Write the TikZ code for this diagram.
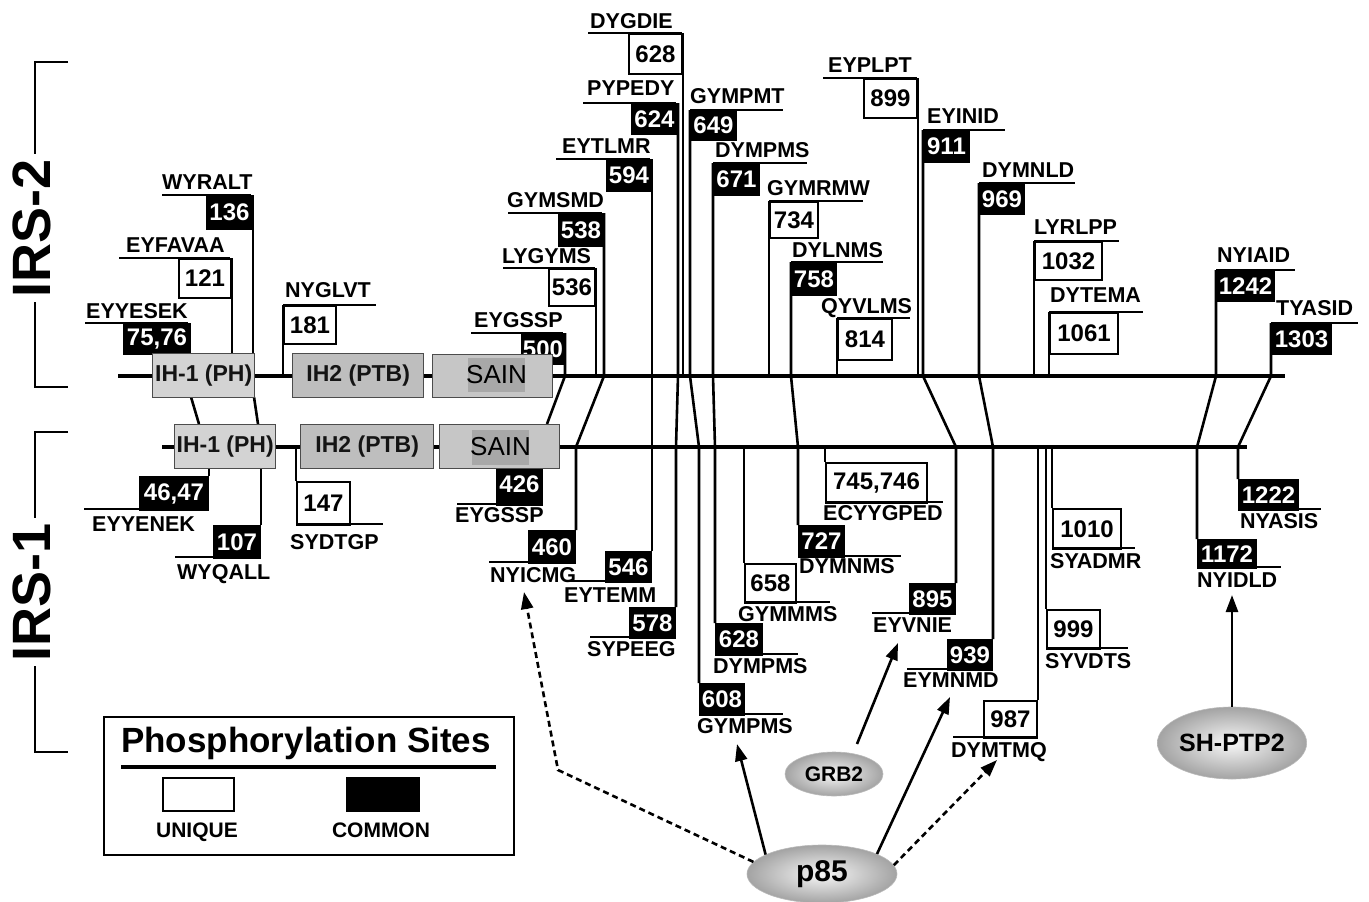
\documentclass[tikz,border=0pt]{standalone}
\usepackage{fontspec}
\setmainfont{Liberation Sans}
\usetikzlibrary{arrows.meta,shapes.geometric,calc}
\newcommand\labfont{\bfseries\fontsize{21.5}{21.5}\selectfont}
\newcommand\numfont{\bfseries\fontsize{24}{24}\selectfont}
\newcommand\domfont{\bfseries\fontsize{23}{23}\selectfont}
\newcommand\sainfont{\fontsize{26}{26}\selectfont}
\newcommand\irsfont{\bfseries\fontsize{54}{54}\selectfont}
\definecolor{ihone}{HTML}{D3D3D3}
\definecolor{ihtwo}{HTML}{BEBEBE}
\definecolor{sainc}{HTML}{C6C6C6}
\definecolor{saind}{HTML}{A8A8A8}
\begin{document}
\begin{tikzpicture}[x=1pt,y=-1pt,
  every node/.style={inner sep=0pt},
  num/.style={draw=black, line width=2pt, anchor=north west, font=\numfont},
  uni/.style={num, fill=white, text=black},
  com/.style={num, fill=black, text=white},
  lab/.style={anchor=base west, font=\labfont},
  ul/.style={line width=2.4pt},
  conn/.style={line width=2.6pt},
  mainline/.style={line width=4.6pt},
  dom/.style={draw=black!70, line width=1.4pt, anchor=north west, font=\domfont, text=black!92},
  prot/.style={ellipse, draw=gray!55, line width=0.6pt, inner color=gray!6, outer color=gray!72},
  arr/.style={line width=2.6pt, -{Triangle[length=17pt,width=12pt]}},
  darr/.style={arr, dash pattern=on 6pt off 4pt},
]
\useasboundingbox (0,0) rectangle (1369,902);
\fill[white] (0,0) rectangle (1369,902);

% brackets and protein names
\draw[line width=2.4pt] (68,62) -- (35,62) -- (35,387) -- (68,387);
\draw[line width=2.4pt] (68,432) -- (35,432) -- (35,752) -- (68,752);
\node[rotate=90, fill=white, inner sep=5pt, font=\irsfont] (irs2) at (32,228) {IRS-2};
\node[rotate=90, fill=white, inner sep=5pt, font=\irsfont] (irs1) at (32,592) {IRS-1};

\coordinate (M2) at (0,376);
\coordinate (M1) at (0,447);

% ---------- IRS-2 boxes ----------
\node[com, minimum width=66pt, minimum height=30pt] (b7576) at (123,323) {75,76};
\node[uni, minimum width=52pt, minimum height=39pt] (b121) at (178,258) {121};
\node[com, minimum width=45pt, minimum height=33pt] (b136) at (206,195) {136};
\node[uni, minimum width=52pt, minimum height=38pt] (b181) at (283,305) {181};
\node[com, minimum width=42pt, minimum height=30pt] (b500) at (521,333) {500};
\node[uni, minimum width=46pt, minimum height=37pt] (b536) at (548,268) {536};
\node[com, minimum width=44pt, minimum height=32pt] (b538) at (558,213) {538};
\node[com, minimum width=44pt, minimum height=31pt] (b594) at (606,159) {594};
\node[com, minimum width=45pt, minimum height=30pt] (b624) at (631,103) {624};
\node[uni, minimum width=53pt, minimum height=40pt] (b628) at (628,33) {628};
\node[com, minimum width=45pt, minimum height=29pt] (b649) at (690,110) {649};
\node[com, minimum width=45pt, minimum height=31pt] (b671) at (713,163) {671};
\node[uni, minimum width=48pt, minimum height=36pt] (b734) at (769,201) {734};
\node[com, minimum width=44pt, minimum height=32pt] (b758) at (791,262) {758};
\node[uni, minimum width=54pt, minimum height=41pt] (b814) at (837,318) {814};
\node[uni, minimum width=53pt, minimum height=39pt] (b899) at (863,78) {899};
\node[com, minimum width=45pt, minimum height=31pt] (b911) at (923,130) {911};
\node[com, minimum width=44pt, minimum height=30pt] (b969) at (979,183) {969};
\node[uni, minimum width=67pt, minimum height=38pt] (b1032) at (1034,241) {1032};
\node[uni, minimum width=68pt, minimum height=41pt] (b1061) at (1049,312) {1061};
\node[com, minimum width=57pt, minimum height=30pt] (b1242) at (1216,270) {1242};
\node[com, minimum width=59pt, minimum height=30pt] (b1303) at (1271,323) {1303};

% ---------- IRS-1 boxes ----------
\node[com, minimum width=68pt, minimum height=33pt] (b4647) at (139,476) {46,47};
\node[com, minimum width=46pt, minimum height=32pt] (b107) at (213,525) {107};
\node[uni, minimum width=53pt, minimum height=43pt] (b147) at (296,481) {147};
\node[com, minimum width=45pt, minimum height=42pt] (b426) at (496,462) {\raisebox{-5pt}{426}};
\node[com, minimum width=46pt, minimum height=32pt] (b460) at (528,530) {460};
\node[com, minimum width=45pt, minimum height=30pt] (b546) at (605,551) {546};
\node[com, minimum width=45pt, minimum height=30pt] (b578) at (629,607) {578};
\node[com, minimum width=44pt, minimum height=31pt] (b608) at (699,683) {608};
\node[com, minimum width=46pt, minimum height=31pt] (b628l) at (715,623) {628};
\node[uni, minimum width=51pt, minimum height=39pt] (b658) at (744,563) {658};
\node[com, minimum width=45pt, minimum height=31pt] (b727) at (798,525) {727};
\node[uni, minimum width=101pt, minimum height=40pt] (b745) at (825,462) {745,746};
\node[com, minimum width=45pt, minimum height=30pt] (b895) at (909,583) {895};
\node[com, minimum width=44pt, minimum height=30pt] (b939) at (947,639) {939};
\node[uni, minimum width=53pt, minimum height=37pt] (b987) at (983,700) {987};
\node[uni, minimum width=53pt, minimum height=39pt] (b999) at (1046,609) {999};
\node[uni, minimum width=68pt, minimum height=40pt] (b1010) at (1052,508) {1010};
\node[com, minimum width=58pt, minimum height=28pt] (b1172) at (1197,539) {1172};
\node[com, minimum width=59pt, minimum height=30pt] (b1222) at (1238,479) {1222};

% ---------- underlines ----------
\foreach \a/\b/\c in {85/188/323, 119/230/258, 162/251/195, 283/376/305, 471/563/333,
  503/595/268, 508/602/213, 556/650/159, 583/676/103, 588/682/33, 690/783/110,
  713/807/163, 769/863/201, 791/883/262, 837/910/318, 823/917/78, 923/1005/130,
  979/1075/183, 1034/1119/241, 1049/1143/312, 1216/1295/270, 1271/1358/323,
  84/207/509, 175/259/557, 296/383/524, 457/541/504, 489/574/562, 567/650/581,
  590/674/637, 699/783/714, 715/798/654, 744/830/602, 798/901/556, 825/943/502,
  872/954/613, 907/991/669, 953/1036/737, 1046/1128/648, 1052/1135/548,
  1197/1281/567, 1238/1321/509}
  \draw[ul] (\a,\c) -- (\b,\c);

% ---------- site connectors ----------
\foreach \n/\s in {b121/north east, b136/north east, b181/north west, b536/north east,
  b628/north east, b734/north west, b814/north west, b899/north east,
  b1032/north west, b1061/north west}
  \draw[conn] (\n.\s) -- (\n.\s |- M2);
\foreach \n/\s in {b4647/north east, b107/north east, b147/north west, b658/north west,
  b745/north west, b987/north east, b999/north west, b1010/north west}
  \draw[conn] (\n.\s |- M1) -- (\n.\s);

\draw[conn] (b500.north east) -- (b500.north east |- M2) -- (547,424);
\draw[conn] (b538.north east) -- (b538.north east |- M2) -- (b460.north east |- M1) -- (b460.north east);
\draw[conn] (b594.north east) -- (b594.north east |- M2) -- (b546.north east |- M1) -- (b546.north east);
\draw[conn] (b624.north east) -- (b624.north east |- M2) -- (b578.north east |- M1) -- (b578.north east);
\draw[conn] (b649.north west) -- (b649.north west |- M2) -- (b608.north west |- M1) -- (b608.north west);
\draw[conn] (b671.north west) -- (b671.north west |- M2) -- (b628l.north west |- M1) -- (b628l.north west);
\draw[conn] (b758.north west) -- (b758.north west |- M2) -- (b727.north west |- M1) -- (b727.north west);
\draw[conn] (b911.north west) -- (b911.north west |- M2) -- (b895.north east |- M1) -- (b895.north east);
\draw[conn] (b969.north west) -- (b969.north west |- M2) -- (b939.north east |- M1) -- (b939.north east);
\draw[conn] (b1242.north west) -- (b1242.north west |- M2) -- (b1172.north west |- M1) -- (b1172.north west);
\draw[conn] (b1303.north west) -- (b1303.north west |- M2) -- (b1222.north west |- M1) -- (b1222.north west);
\draw[conn] (191,397) -- (199,424);
\draw[conn] (254,397) -- (258,424);

% ---------- main chains ----------
\draw[mainline] (118,376) -- (1285,376);
\draw[mainline] (162,447) -- (1247,447);

% ---------- domains ----------
\node[dom, fill=ihone, minimum width=102pt, minimum height=44pt] (ih1a) at (152,353) {IH-1 (PH)};
\node[dom, fill=ihtwo, minimum width=131pt, minimum height=44pt] (ih2a) at (292,353) {IH2 (PTB)};
\node[dom, fill=sainc, minimum width=120pt, minimum height=43pt] (saina) at (432,354) {};
\fill[saind] (468,358) rectangle (525,392);
\node[font=\sainfont] (sainta) at (496.5,375) {SAIN};

\node[dom, fill=ihone, minimum width=101pt, minimum height=44pt] (ih1b) at (174,424) {IH-1 (PH)};
\node[dom, fill=ihtwo, minimum width=133pt, minimum height=44pt] (ih2b) at (300,424) {IH2 (PTB)};
\node[dom, fill=sainc, minimum width=120pt, minimum height=44pt] (sainb) at (439,424) {};
\fill[saind] (472,430) rectangle (529,465);
\node[font=\sainfont] (saintb) at (500.5,447) {SAIN};

% ---------- labels ----------
\foreach \t/\x/\y in {EYYESEK/86/318, EYFAVAA/126/252, WYRALT/162/189, NYGLVT/285/297,
  EYGSSP/474/327, LYGYMS/502/263, GYMSMD/507/207, EYTLMR/562/153, PYPEDY/587/95,
  DYGDIE/590/28, GYMPMT/690/103, DYMPMS/715/157, GYMRMW/767/195, DYLNMS/792/257,
  QYVLMS/821/313, EYPLPT/828/72, EYINID/927/123, DYMNLD/982/177, LYRLPP/1034/234,
  DYTEMA/1050/302, NYIAID/1217/262, TYASID/1276/315}
  \node[lab] (lu\t) at (\x,\y) {\t};
\foreach \t/\x/\y in {EYYENEK/92/531, WYQALL/177/579, SYDTGP/290/549, EYGSSP/455/522,
  NYICMG/490/582, EYTEMM/564/602, SYPEEG/587/656, GYMPMS/697/733, DYMPMS/713/673,
  GYMMMS/738/621, DYMNMS/799/573, ECYYGPED/823/520, EYVNIE/873/632, EYMNMD/903/687,
  DYMTMQ/951/757, SYVDTS/1045/668, SYADMR/1050/568, NYIDLD/1197/587, NYASIS/1240/528}
  \node[lab] (ll\t) at (\x,\y) {\t};

% ---------- binding proteins ----------
\node[prot, minimum width=150pt, minimum height=58pt, font=\bfseries\fontsize{30}{30}\selectfont] (p85) at (822,874) {p85};
\node[prot, minimum width=98pt, minimum height=44pt, font=\bfseries\fontsize{21}{21}\selectfont] (grb2) at (834,774) {GRB2};
\node[prot, minimum width=148pt, minimum height=72pt, font=\bfseries\fontsize{25}{25}\selectfont] (shptp2) at (1232,743) {SH-PTP2};

\coordinate (tGYMPMS) at (737,744);
\coordinate (tEYMNMD) at (950,697);
\coordinate (tDYMTMQ) at (997,760);
\coordinate (tNYICMG) at (524,592);
\coordinate (bendA) at (558,770);
\coordinate (sGRB2) at (857,744);
\coordinate (tEYVNIE) at (898,643);
\coordinate (tNYIDLD) at (1232,595);

\draw[arr] (p85.161) -- (tGYMPMS);
\draw[arr] (p85.20) -- (tEYMNMD);
\draw[darr] (p85.7) -- (tDYMTMQ);
\draw[darr] (p85.170) -- (bendA) -- (tNYICMG);
\draw[arr] (sGRB2) -- (tEYVNIE);
\draw[arr] (shptp2.north) -- (tNYIDLD);

% ---------- legend ----------
\node[draw, line width=2.4pt, anchor=north west, minimum width=410pt, minimum height=138pt] (legend) at (103,716) {};
\node[anchor=base, font=\bfseries\fontsize{35}{35}\selectfont] (ltitle) at (306,752) {Phosphorylation Sites};
\draw[line width=4pt] (121,767) -- (496,767);
\node[uni, minimum width=71pt, minimum height=33pt] (legU) at (162,777) {};
\node[com, minimum width=72pt, minimum height=33pt] (legC) at (346,777) {};
\node[anchor=base, font=\bfseries\fontsize{21}{21}\selectfont] (legUt) at (197,837) {UNIQUE};
\node[anchor=base, font=\bfseries\fontsize{21}{21}\selectfont] (legCt) at (381,837) {COMMON};
\end{tikzpicture}
\end{document}
